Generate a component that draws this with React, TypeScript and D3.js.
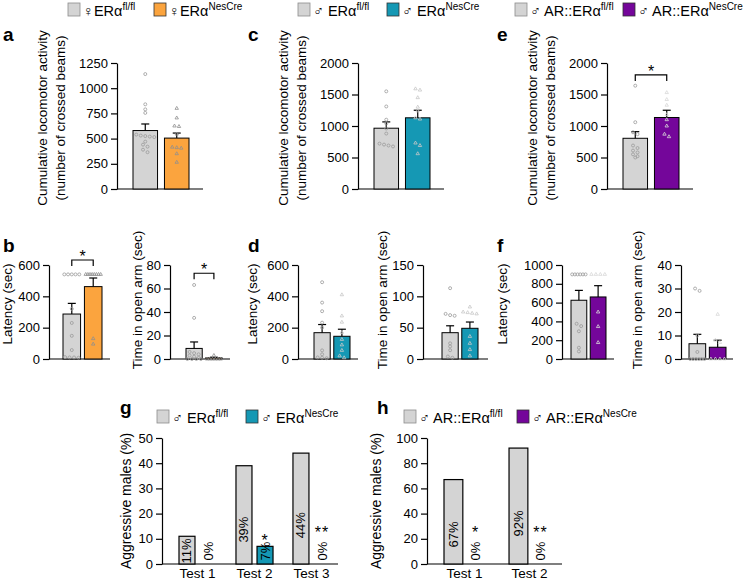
import React, { useEffect, useRef } from 'react';
import * as d3 from 'd3';

const FONT = "'Liberation Sans', Arial, sans-serif";
const GREY = '#d4d4d4';
const ORANGE = '#fba43e';
const TEAL = '#1598b4';
const PURPLE = '#74069a';

// a: females, locomotor activity
const ticksLocoF = [0, 250, 500, 750, 1000, 1250];
const locoFemFl = [1140, 840, 790, 755, 540, 530, 525, 520, 515, 470, 440, 420, 390, 365];
const locoFemCre = [800, 705, 625, 620, 545, 415, 410, 405, 350, 265];
const locoFemMean = [580, 505];
const locoFemSem = [65, 50];

// c: males ERα
const ticksLocoM = [0, 500, 1000, 1500, 2000];
const locoMalFl = [1550, 1310, 1100, 1040, 960, 880, 720, 705, 690, 675];
const locoMalCre = [1590, 1570, 1450, 1300, 1240, 1130, 1110, 730, 690, 560];
const locoMalMean = [965, 1130];
const locoMalSem = [100, 120];

// e: males AR::ERα
const locoArFl = [1640, 1060, 900, 870, 690, 650, 610, 580, 550, 520, 500];
const locoArCre = [1530, 1420, 1330, 1180, 1100, 1000, 870, 830];
const locoArMean = [805, 1135];
const locoArSem = [105, 115];

// b: females
const ticksLat600 = [0, 200, 400, 600];
const latFemFl = [540, 540, 540, 540, 540, 320, 230, 148, 57, 12, 10, 10, 8];
const latFemCre = [540, 540, 540, 540, 540, 540, 540, 540, 130, 95];
const latFemMean = [287, 462];
const latFemSem = [68, 55];
const ticksOpen80 = [0, 20, 40, 60, 80];
const openFemFl = [63, 35, 6, 5, 4, 3, 2, 1, 0, 0, 0, 0];
const openFemCre = [3, 0, 0, 0, 0, 0, 0];
const openFemMean = [9, 1];
const openFemSem = [5.5, 0.5];

// d: males ERα
const latMalFl = [490, 360, 305, 232, 200, 55, 30, 10, 8, 5];
const latMalCre = [410, 275, 235, 170, 125, 90, 55, 20, 8];
const latMalMean = [168, 145];
const latMalSem = [52, 45];
const ticksOpen150 = [0, 50, 100, 150];
const openMalFl = [113, 72, 70, 69, 25, 20, 14, 4, 2];
const openMalCre = [83, 75, 74, 73, 72, 36, 25, 15, 5];
const openMalMean = [42, 49];
const openMalSem = [11, 10];

// f: males AR::ERα
const ticksLat1000 = [0, 200, 400, 600, 800, 1000];
const latArFl = [900, 900, 900, 900, 900, 900, 375, 350, 295, 120, 80];
const latArCre = [900, 900, 900, 900, 500, 345, 175];
const latArMean = [625, 660];
const latArSem = [105, 120];
const ticksOpen40 = [0, 10, 20, 30, 40];
const openArFl = [30, 29, 10, 3, 0, 0, 0, 0, 0, 0];
const openArCre = [19, 8, 7, 0, 0, 0, 0];
const openArMean = [6.5, 5];
const openArSem = [4, 3];

// g, h: aggression
const testsG = ['Test 1', 'Test 2', 'Test 3'];
const aggGFl = [11, 39, 44];
const aggGCre = [0, 7, 0];
const sigG = ['', '*', '**'];
const ticksAggG = [0, 10, 20, 30, 40, 50];
const testsH = ['Test 1', 'Test 2'];
const aggHFl = [67, 92];
const aggHCre = [0, 0];
const sigH = ['*', '**'];
const ticksAggH = [0, 20, 40, 60, 80, 100];

type Sel = d3.Selection<any, unknown, null, undefined>;

const swarm = (vals: number[], y: d3.ScaleLinear<number, number>, cx: number, bw: number) => {
    const sorted = vals.map((v) => ({ v, py: y(v) })).sort((a, b) => a.py - b.py);
    const rows: { v: number; py: number }[][] = [];
    sorted.forEach((p) => {
        const last = rows[rows.length - 1];
        if (last && Math.abs(p.py - last[0].py) < 3) last.push(p);
        else rows.push([p]);
    });
    return rows.flatMap((row) => {
        const sp = row.length > 1 ? Math.min(4.5, (bw * 0.85) / (row.length - 1)) : 0;
        return row.map((p, i) => ({ ...p, px: cx + (i - (row.length - 1) / 2) * sp }));
    });
};

const styleAxis = (ax: Sel) => {
    ax.attr('font-size', 13).attr('font-family', FONT);
    ax.selectAll('text').attr('fill', '#000');
    ax.selectAll('line,path').attr('stroke', '#000').attr('stroke-width', 1.2);
};

const vTitle = (root: Sel, lines: string[], xs: number[], cy: number, size = 13.5) => {
    lines.forEach((t, i) => {
        root.append('text')
            .attr('transform', `translate(${xs[i]},${cy}) rotate(-90)`)
            .attr('text-anchor', 'middle')
            .attr('font-family', FONT)
            .attr('font-size', size)
            .text(t);
    });
};

const dotPanel = (root: Sel, o: any) => {
    const y = d3.scaleLinear().domain([0, o.max]).range([o.yBot, o.yTop]);
    const x = d3.scaleBand<number>().domain(o.groups.map((_: any, i: number) => i))
        .range([o.b0, o.b1]).paddingInner(o.pad ?? 0.22);
    const g = root.append('g');
    const ax = g.append('g').attr('transform', `translate(${o.x0},0)`)
        .call(d3.axisLeft(y).tickValues(o.ticks).tickSize(6).tickSizeOuter(0)
            .tickPadding(3).tickFormat(d3.format('d')));
    styleAxis(ax);
    g.append('line').attr('x1', o.x0).attr('x2', o.xEnd).attr('y1', o.yBot).attr('y2', o.yBot)
        .attr('stroke', '#000').attr('stroke-width', 1.2);
    o.groups.forEach((gr: any, i: number) => {
        const bx = x(i) as number;
        const bw = x.bandwidth();
        const cx = bx + bw / 2;
        g.append('rect').attr('x', bx).attr('y', y(gr.mean)).attr('width', bw)
            .attr('height', o.yBot - y(gr.mean)).attr('fill', gr.fill)
            .attr('stroke', '#000').attr('stroke-width', 1);
        const top = y(gr.mean + gr.sem);
        g.append('line').attr('x1', cx).attr('x2', cx).attr('y1', y(gr.mean)).attr('y2', top)
            .attr('stroke', '#000').attr('stroke-width', 1.2);
        g.append('line').attr('x1', cx - 4).attr('x2', cx + 4).attr('y1', top).attr('y2', top)
            .attr('stroke', '#000').attr('stroke-width', 1.2);
        const pts = swarm(gr.pts, y, cx, bw);
        if (gr.shape === 'circle') {
            g.selectAll(null).data(pts).enter().append('circle')
                .attr('cx', (d) => d.px).attr('cy', (d) => d.py).attr('r', 1.5)
                .attr('fill', 'none').attr('stroke', gr.ptColor).attr('stroke-width', 0.8);
        } else {
            const sym = d3.symbol().type(d3.symbolTriangle).size(5);
            g.selectAll(null).data(pts).enter().append('path')
                .attr('d', sym as any)
                .attr('transform', (d) => `translate(${d.px},${d.py})`)
                .attr('fill', 'none').attr('stroke', gr.ptColor).attr('stroke-width', 0.8);
        }
    });
    if (o.bracket !== undefined) {
        const yb = y(o.bracket);
        const c0 = (x(0) as number) + x.bandwidth() / 2;
        const c1 = (x(1) as number) + x.bandwidth() / 2;
        g.append('path').attr('d', `M${c0},${yb + 6}V${yb}H${c1}V${yb + 6}`)
            .attr('fill', 'none').attr('stroke', '#000').attr('stroke-width', 1.2);
        g.append('text').attr('x', (c0 + c1) / 2).attr('y', yb + 2).attr('text-anchor', 'middle')
            .attr('font-family', FONT).attr('font-size', 16).text('*');
    }
    vTitle(root, o.title, o.titleX, o.titleCy);
};

const aggPanel = (root: Sel, o: any) => {
    const y = d3.scaleLinear().domain([0, o.max]).range([o.yBot, o.yTop]);
    const x = d3.scaleBand<string>().domain(o.tests).range([o.b0, o.b1]).paddingInner(o.pad);
    const xi = d3.scaleBand<number>().domain([0, 1]).range([0, x.bandwidth()]).paddingInner(o.innerPad);
    const g = root.append('g');
    const ax = g.append('g').attr('transform', `translate(${o.x0},0)`)
        .call(d3.axisLeft(y).tickValues(o.ticks).tickSize(6).tickSizeOuter(0)
            .tickPadding(3).tickFormat(d3.format('d')));
    styleAxis(ax);
    g.append('line').attr('x1', o.x0).attr('x2', o.xEnd).attr('y1', o.yBot).attr('y2', o.yBot)
        .attr('stroke', '#000').attr('stroke-width', 1.2);
    o.tests.forEach((t: string, i: number) => {
        const gx = x(t) as number;
        const vals = [o.fl[i], o.cre[i]];
        const fills = [GREY, o.creColor];
        vals.forEach((v, j) => {
            const bx = gx + (xi(j) as number);
            const cx = bx + xi.bandwidth() / 2;
            if (v > 0) {
                g.append('rect').attr('x', bx).attr('y', y(v)).attr('width', xi.bandwidth())
                    .attr('height', o.yBot - y(v)).attr('fill', fills[j])
                    .attr('stroke', '#000').attr('stroke-width', 1.2);
            }
            const cy = Math.min(y(v * 0.35), o.yBot - 13);
            g.append('text').attr('transform', `translate(${cx},${cy}) rotate(-90)`)
                .attr('text-anchor', 'middle').attr('dominant-baseline', 'central')
                .attr('font-family', FONT).attr('font-size', 13).text(`${v}%`);
            if (j === 1 && o.sig[i]) {
                const sy = v > 0 ? y(v) - 9 : o.yBot - 35;
                g.append('text').attr('x', cx).attr('y', sy + 9).attr('text-anchor', 'middle')
                    .attr('font-family', FONT).attr('font-size', 16).attr('letter-spacing', 1)
                    .text(o.sig[i]);
            }
        });
        g.append('text').attr('x', gx + x.bandwidth() / 2).attr('y', o.yBot + 14)
            .attr('text-anchor', 'middle').attr('font-family', FONT).attr('font-size', 13.5)
            .text(t);
    });
    vTitle(root, [o.title], [o.titleX], o.titleCy, 14);
};

const legend = (root: Sel, y: number, items: { x: number; color: string; label: string; sup: string }[]) => {
    items.forEach((it) => {
        root.append('rect').attr('x', it.x).attr('y', y).attr('width', 12).attr('height', 13)
            .attr('fill', it.color).attr('stroke', it.color === GREY ? '#8c8c8c' : '#333')
            .attr('stroke-width', 0.8);
        const t = root.append('text').attr('x', it.x + 15).attr('y', y + 13)
            .attr('font-family', FONT).attr('font-size', 14.5);
        t.append('tspan').text(it.label);
        t.append('tspan').attr('dy', -6).attr('font-size', 10).text(it.sup);
    });
};

const letter = (root: Sel, x: number, y: number, s: string) => {
    root.append('text').attr('x', x).attr('y', y).attr('font-family', FONT)
        .attr('font-weight', 'bold').attr('font-size', 19).text(s);
};

const draw = (svg: Sel) => {
    const fl = (pts: number[], mean: number, sem: number) => ({ pts, mean, sem, fill: GREY, shape: 'circle', ptColor: '#9a9a9a' });
    const cre = (pts: number[], mean: number, sem: number, fill: string, ptColor: string) => ({ pts, mean, sem, fill, shape: 'triangle', ptColor });
    const locoTitle = ['Cumulative locomotor activity', '(number of crossed beams)'];

    legend(svg, 3, [
        { x: 68, color: GREY, label: '♀ERα', sup: 'fl/fl' },
        { x: 154, color: ORANGE, label: '♀ERα', sup: 'NesCre' },
    ]);
    legend(svg, 3, [
        { x: 298, color: GREY, label: '♂ ERα', sup: 'fl/fl' },
        { x: 387, color: TEAL, label: '♂ ERα', sup: 'NesCre' },
    ]);
    legend(svg, 3, [
        { x: 515, color: GREY, label: '♂ AR::ERα', sup: 'fl/fl' },
        { x: 623, color: PURPLE, label: '♂ AR::ERα', sup: 'NesCre' },
    ]);

    const top = [
        { x0: 117, lt: 'a', lx: 3, ticks: ticksLocoF, max: 1250, g: [fl(locoFemFl, locoFemMean[0], locoFemSem[0]), cre(locoFemCre, locoFemMean[1], locoFemSem[1], ORANGE, '#8f8f8f')] },
        { x0: 358, lt: 'c', lx: 248, ticks: ticksLocoM, max: 2000, g: [fl(locoMalFl, locoMalMean[0], locoMalSem[0]), cre(locoMalCre, locoMalMean[1], locoMalSem[1], TEAL, '#c8c8c8')] },
        { x0: 607, lt: 'e', lx: 497, ticks: ticksLocoM, max: 2000, br: 1810, g: [fl(locoArFl, locoArMean[0], locoArSem[0]), cre(locoArCre, locoArMean[1], locoArSem[1], PURPLE, '#d8d8d8')] },
    ];
    top.forEach((p) => {
        letter(svg, p.lx, 41, p.lt);
        dotPanel(svg, {
            x0: p.x0, xEnd: p.x0 + 86, b0: p.x0 + 16, b1: p.x0 + 72, yTop: 63, yBot: 189,
            max: p.max, ticks: p.ticks, groups: p.g, bracket: p.br,
            title: locoTitle, titleX: [p.x0 - 70, p.x0 - 52], titleCy: 118,
        });
    });

    const latT = ['Latency (sec)'];
    const openT = ['Time in open arm (sec)'];
    const low = [
        { x0: 49, b: [63, 102], end: 110, tx: 12, ticks: ticksLat600, max: 600, br: 632, t: latT, g: [fl(latFemFl, latFemMean[0], latFemSem[0]), cre(latFemCre, latFemMean[1], latFemSem[1], ORANGE, '#8f8f8f')] },
        { x0: 170, b: [186, 222], end: 230, tx: 142, ticks: ticksOpen80, max: 80, br: 73, t: openT, g: [fl(openFemFl, openFemMean[0], openFemSem[0]), cre(openFemCre, openFemMean[1], openFemSem[1], ORANGE, '#8f8f8f')] },
        { x0: 298, b: [314, 350], end: 358, tx: 257, ticks: ticksLat600, max: 600, t: latT, g: [fl(latMalFl, latMalMean[0], latMalSem[0]), cre(latMalCre, latMalMean[1], latMalSem[1], TEAL, '#c8c8c8')] },
        { x0: 423, b: [442, 478], end: 488, tx: 387, ticks: ticksOpen150, max: 150, t: openT, g: [fl(openMalFl, openMalMean[0], openMalSem[0]), cre(openMalCre, openMalMean[1], openMalSem[1], TEAL, '#c8c8c8')] },
        { x0: 562, b: [571, 606], end: 614, tx: 507, ticks: ticksLat1000, max: 1000, t: latT, g: [fl(latArFl, latArMean[0], latArSem[0]), cre(latArCre, latArMean[1], latArSem[1], PURPLE, '#d8d8d8')] },
        { x0: 681, b: [689, 726], end: 733, tx: 642, ticks: ticksOpen40, max: 40, t: openT, g: [fl(openArFl, openArMean[0], openArSem[0]), cre(openArCre, openArMean[1], openArSem[1], PURPLE, '#d8d8d8')] },
    ];
    low.forEach((p) => {
        dotPanel(svg, {
            x0: p.x0, xEnd: p.end, b0: p.b[0], b1: p.b[1], yTop: 265, yBot: 359, pad: 0.18,
            max: p.max, ticks: p.ticks, groups: p.g, bracket: p.br,
            title: p.t, titleX: [p.tx], titleCy: p.t === latT ? 304 : 300,
        });
    });
    letter(svg, 3, 252, 'b');
    letter(svg, 248, 252, 'd');
    letter(svg, 497, 252, 'f');

    letter(svg, 120, 414, 'g');
    letter(svg, 377, 414, 'h');
    legend(svg, 410, [
        { x: 157, color: GREY, label: '♂ ERα', sup: 'fl/fl' },
        { x: 246, color: TEAL, label: '♂ ERα', sup: 'NesCre' },
    ]);
    legend(svg, 410, [
        { x: 404, color: GREY, label: '♂ AR::ERα', sup: 'fl/fl' },
        { x: 517, color: PURPLE, label: '♂ AR::ERα', sup: 'NesCre' },
    ]);
    aggPanel(svg, {
        x0: 162, xEnd: 338, yTop: 438, yBot: 564, max: 50, ticks: ticksAggG, tests: testsG,
        fl: aggGFl, cre: aggGCre, sig: sigG, creColor: TEAL, b0: 179, b1: 330, pad: 0.35, innerPad: 0.24,
        title: 'Aggressive males (%)', titleX: 131, titleCy: 501,
    });
    aggPanel(svg, {
        x0: 427, xEnd: 562, yTop: 438, yBot: 564, max: 100, ticks: ticksAggH, tests: testsH,
        fl: aggHFl, cre: aggHCre, sig: sigH, creColor: PURPLE, b0: 444, b1: 550, pad: 0.37, innerPad: 0.15,
        title: 'Aggressive males (%)', titleX: 381, titleCy: 501,
    });
};

export default function App() {
    const ref = useRef<SVGSVGElement>(null);
    useEffect(() => {
        const svg = d3.select(ref.current) as unknown as Sel;
        svg.selectAll('*').remove();
        draw(svg);
    }, []);
    return (
        <svg ref={ref} width={747} height={580}
            style={{ position: 'absolute', left: 0, top: 0, background: '#fff' }} />
    );
}
